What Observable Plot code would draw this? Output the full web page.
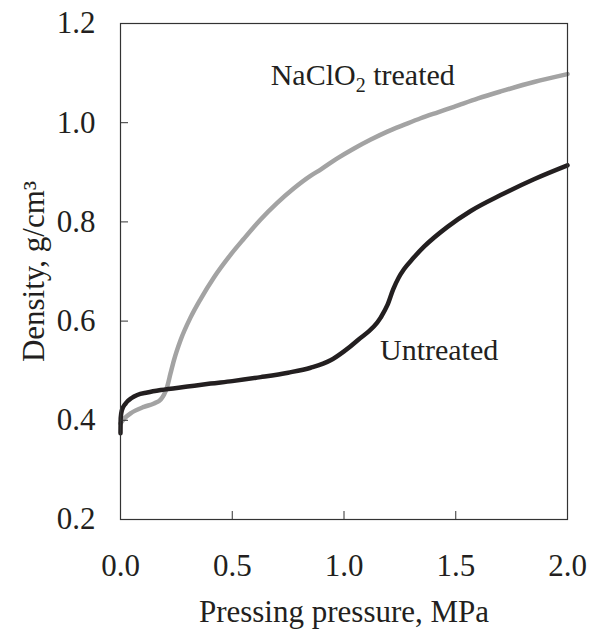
<!DOCTYPE html>
<html>
<head>
<meta charset="utf-8">
<script src="https://cdn.jsdelivr.net/npm/d3@7"></script>
<script src="https://cdn.jsdelivr.net/npm/@observablehq/plot@0.6"></script>
<style>
  html, body { margin: 0; padding: 0; background: white; }
  svg text { font-family: 'Liberation Serif', 'Times New Roman', serif !important; }
</style>
</head>
<body>
<div id="chart"></div>
<script>
// Untreated (black)
const untreatedX = [0, 0.001, 0.006, 0.023, 0.05, 0.075, 0.12, 0.18, 0.3, 0.403, 0.5, 0.627, 0.75, 0.851, 0.94, 1.0, 1.06, 1.164, 1.194, 1.22, 1.245, 1.269, 1.31, 1.358, 1.463, 1.567, 1.701, 1.85, 2.0];
const untreatedY = [0.374, 0.405, 0.42, 0.434, 0.445, 0.451, 0.456, 0.461, 0.468, 0.474, 0.479, 0.487, 0.496, 0.506, 0.521, 0.539, 0.561, 0.607, 0.632, 0.664, 0.688, 0.705, 0.727, 0.750, 0.790, 0.822, 0.854, 0.886, 0.914];

// NaClO2 treated (gray)
const treatedX = [0, 0.02, 0.045, 0.105, 0.15, 0.18, 0.195, 0.209, 0.224, 0.239, 0.269, 0.313, 0.359, 0.418, 0.493, 0.55, 0.627, 0.7, 0.776, 0.85, 0.897, 0.97, 1.045, 1.12, 1.194, 1.27, 1.343, 1.42, 1.492, 1.6, 1.701, 1.85, 2.0];
const treatedY = [0.394, 0.405, 0.414, 0.427, 0.434, 0.442, 0.452, 0.468, 0.495, 0.521, 0.562, 0.607, 0.645, 0.688, 0.734, 0.765, 0.805, 0.838, 0.868, 0.893, 0.906, 0.928, 0.948, 0.966, 0.982, 0.996, 1.009, 1.021, 1.032, 1.049, 1.063, 1.082, 1.098];

const xTicks = [0, 0.5, 1.0, 1.5, 2.0];
const yTicks = [0.2, 0.4, 0.6, 0.8, 1.0, 1.2];

const labelText = ["NaClO2 treated", "Untreated"];
const labelX = [0.672, 1.161];
const labelY = [1.0757, 0.5214];

const untreated = untreatedX.map((x, i) => ({x, y: untreatedY[i]}));
const treated = treatedX.map((x, i) => ({x, y: treatedY[i]}));
const labels = labelText.map((t, i) => ({t, x: labelX[i], y: labelY[i]}));

const ink = "#231f20";
const serif = "'Liberation Serif', 'Times New Roman', serif";
const plot = Plot.plot({
  width: 589,
  height: 629,
  marginLeft: 120,
  marginRight: 22,
  marginTop: 23,
  marginBottom: 110,
  style: {fontFamily: serif, fontSize: "30px", color: ink, background: "white"},
  x: {domain: [0, 2]},
  y: {domain: [0.2, 1.2]},
  marks: [
    Plot.line(treated, {x: "x", y: "y", stroke: "#a3a3a3", strokeWidth: 4.5, curve: "monotone-x"}),
    Plot.line(untreated, {x: "x", y: "y", stroke: ink, strokeWidth: 4.5, curve: "monotone-x"}),
    Plot.frame({stroke: "#333", strokeWidth: 1.2}),
    Plot.axisX(xTicks, {tickSize: -8, tickPadding: 42.5, tickFormat: d => d.toFixed(1), fontSize: 31, fontFamily: serif, fontVariant: "normal", stroke: "#333",
      label: "Pressing pressure, MPa", labelAnchor: "center", labelOffset: 102, labelArrow: "none"}),
    Plot.axisY(yTicks, {tickSize: -8, tickPadding: 33, tickFormat: d => d.toFixed(1), fontSize: 31, fontFamily: serif, fontVariant: "normal", stroke: "#333",
      label: "Density, g/cm³", labelAnchor: "center", labelOffset: 98.5, labelArrow: "none"}),
    Plot.text(labels, {x: "x", y: "y", text: "t", textAnchor: "start", lineAnchor: "bottom", fontSize: 30, fontFamily: serif, fill: ink})
  ]
});

d3.select(plot).selectAll("text").filter(function() { return this.textContent === "NaClO2 treated"; }).each(function() {
  const t = d3.select(this);
  t.text(null);
  t.append("tspan").text("NaClO");
  t.append("tspan").attr("font-size", "20px").attr("dy", "7").text("2");
  t.append("tspan").attr("dy", "-7").text(" treated");
});

document.getElementById("chart").appendChild(plot);
</script>
</body>
</html>
